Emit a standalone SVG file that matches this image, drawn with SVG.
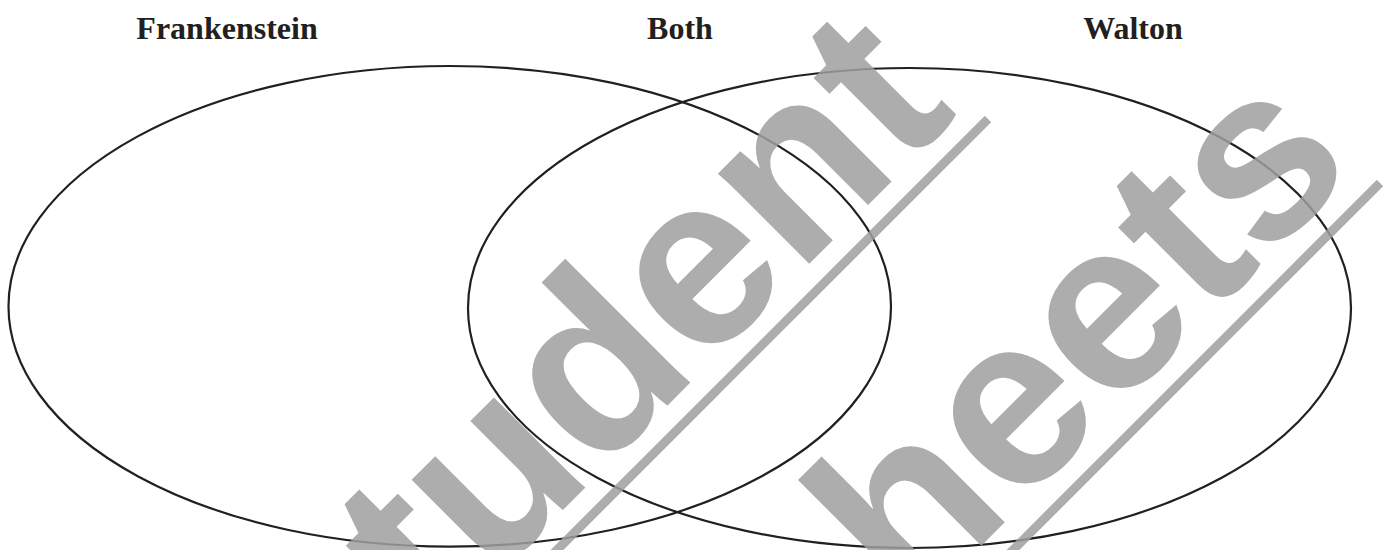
<svg xmlns="http://www.w3.org/2000/svg" width="1385" height="550" viewBox="0 0 1385 550">
  <style>
    .set { fill: none; stroke: #231f20; stroke-width: 2.2; }
    .label { font-family: "Liberation Serif", "Times New Roman", serif; font-weight: bold; font-size: 32px; fill: #231f20; text-anchor: middle; }
    .wm { font-family: "Liberation Sans", Arial, sans-serif; font-weight: bold; font-size: 243px; fill: #9f9f9f; }
    .wmline { stroke: #9f9f9f; stroke-width: 9; fill: none; }
  </style>
  <rect width="1385" height="550" fill="#ffffff"/>
  <g id="set-frankenstein">
    <ellipse class="set" cx="449.75" cy="306.3" rx="441.25" ry="240.3"/>
    <text class="label" x="227" y="39">Frankenstein</text>
  </g>
  <g id="set-both">
    <text class="label" x="680" y="39">Both</text>
  </g>
  <g id="set-walton">
    <ellipse class="set" cx="909.5" cy="308" rx="441.5" ry="240"/>
    <text class="label" x="1133" y="39">Walton</text>
  </g>
  <g id="connectors"/>
  <g id="watermark" opacity="0.85">
    <text class="wm" transform="translate(339 734) rotate(-45)">student</text>
    <line class="wmline" x1="400" y1="707" x2="988" y2="119"/>
    <text class="wm" transform="translate(815 712) rotate(-45)">sheets</text>
    <line class="wmline" x1="700" y1="863" x2="1380" y2="183"/>
  </g>
</svg>
